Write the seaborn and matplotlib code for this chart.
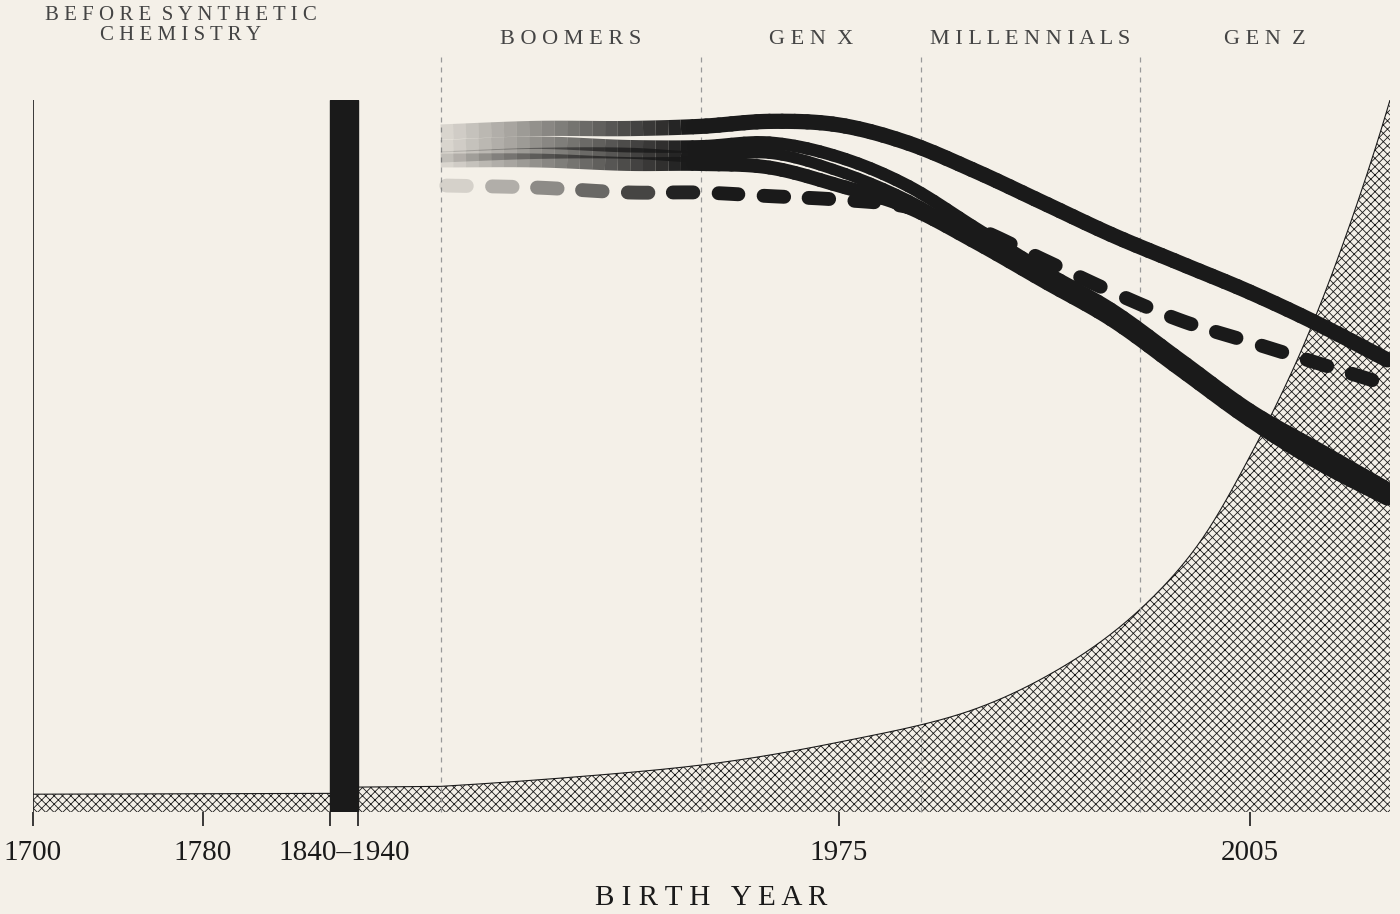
import numpy as np
import matplotlib
matplotlib.use("Agg")
import matplotlib.pyplot as plt
import seaborn as sns

sns.set_theme(style="white")
plt.rcParams['font.family'] = ['Liberation Serif', 'DejaVu Serif']
BG = "#f4f0e8"; INK = "#1a1a1a"

# data
hatch_years = [1700, 1840, 1940, 1946, 1955, 1965, 1975, 1985, 1991, 1997, 2001, 2005, 2009, 2012, 2015.2]
hatch_vals = [2.5, 2.6, 3.5, 3.6, 4.8, 6.6, 9.8, 14.5, 20, 28.5, 37, 50, 66, 81, 100]
line_years = [1946, 1953, 1960, 1965, 1970, 1975, 1980, 1985, 1990, 1995, 2000, 2005, 2010, 2015]
top_line = [95.5, 96, 96, 96.3, 97, 96.5, 94, 90, 85.5, 81, 77, 73, 68.5, 63.5]
dashed_line = [88, 87.7, 87, 87, 86.5, 86, 85, 82, 77.5, 73, 69, 66, 63, 60]
solid_c = [93.5, 94, 93.5, 93.5, 94, 92, 88, 82, 76, 70.5, 63.5, 56.5, 51, 45.5]
solid_d = [91.5, 91.5, 91, 91, 90.5, 88, 85, 80, 74.5, 69, 62, 55, 49, 44]
solid_e = [92, 92.5, 92.5, 92, 92.5, 90, 86, 80.5, 75, 69.5, 62.5, 55.5, 50, 44.5]
generations = ["B O O M E R S", "G E N  X", "M I L L E N N I A L S", "G E N  Z"]
gen_bounds = [1946, 1965, 1981, 1997, 2015.2]
tick_years = [1700, 1780, 1840, 1940, 1975, 2005]

def fwd(y):
    y = np.asarray(y, float)
    return np.where(y <= 1840, (y - 1700) * 2.125,
           np.where(y <= 1940, 297.5 + (y - 1840) * 0.28, 325.5 + (y - 1940) * 13.72))
def inv(u):
    u = np.asarray(u, float)
    return np.where(u <= 297.5, 1700 + u / 2.125,
           np.where(u <= 325.5, 1840 + (u - 297.5) / 0.28, 1940 + (u - 325.5) / 13.72))

def smooth(xp, yp, n=400):
    xp = np.asarray(xp, float); yp = np.asarray(yp, float)
    xs = np.linspace(xp[0], xp[-1], n)
    m = np.gradient(yp, xp)
    idx = np.clip(np.searchsorted(xp, xs) - 1, 0, len(xp) - 2)
    h = xp[idx + 1] - xp[idx]; t = (xs - xp[idx]) / h
    h00 = 2*t**3 - 3*t**2 + 1; h10 = t**3 - 2*t**2 + t
    h01 = -2*t**3 + 3*t**2; h11 = t**3 - t**2
    return xs, h00*yp[idx] + h10*h*m[idx] + h01*yp[idx+1] + h11*h*m[idx+1]

fig = plt.figure(figsize=(14, 9.14), dpi=100, facecolor=BG)
ax = fig.add_axes([33/1400, (914-812)/914, (1390-33)/1400, 712/914])
ax.set_facecolor(BG)
ax.set_xscale('function', functions=(fwd, inv))
ax.set_xlim(1700, 2015.2); ax.set_ylim(0, 100)
for s in ax.spines.values(): s.set_visible(False)

fy = np.linspace(1700, 2015.2, 1500)
_, lv = smooth(hatch_years[3:], np.log(hatch_vals[3:]), 1000)
fv = np.where(fy < 1946, np.interp(fy, hatch_years, hatch_vals),
              np.exp(np.interp(fy, np.linspace(1946, 2015.2, 1000), lv)))
plt.rcParams['hatch.linewidth'] = 0.6
ax.fill_between(fy, 0, fv, facecolor="none", edgecolor=INK, hatch="xxxx", linewidth=0)
ax.plot(fy, fv, color=INK, lw=0.8)
ax.axvspan(1840, 1940, color=INK, zorder=5)
ax.plot([1700, 1700], [0, 100], color=INK, lw=1.2)

for b in gen_bounds[:-1]:
    ax.plot([b, b], [0, 106], color="#999", lw=0.9, ls=(0, (4, 4)), clip_on=False)

def alpha_at(x):
    return min(1.0, 0.12 + (x - 1946) / 20)

def fade_line(vals, lw):
    xs, ys = smooth(line_years, vals, 600)
    n = len(xs); chunk = 8
    for i in range(0, n - 1, chunk):
        a = alpha_at(xs[i])
        seg = slice(i, min(i + chunk + 1, n))
        cap = 'butt' if a < 1 else 'round'
        ax.plot(xs[seg], ys[seg], color=INK, alpha=a, lw=lw, solid_capstyle=cap)

def fade_dashed(vals, lw, dash=1.55, gap=1.75):
    xs, ys = smooth(line_years, vals, 1200)
    s = xs[0] + 0.4
    while s < xs[-1]:
        e = min(s + dash, xs[-1])
        m = (xs >= s) & (xs <= e)
        ax.plot(xs[m], ys[m], color=INK, alpha=alpha_at(s), lw=lw, solid_capstyle='round')
        s = e + gap

fade_line(top_line, 11)
fade_line(solid_c, 9)
fade_line(solid_e, 8)
fade_line(solid_d, 10)
fade_dashed(dashed_line, 10)

ax.set_xticks(tick_years)
ax.set_xticklabels(["1700", "1780", "", "", "1975", "2005"], fontsize=21, color=INK)
ax.tick_params(axis='x', length=10, width=1.2, color=INK, pad=10, bottom=True)
ax.set_yticks([])
ax.text(1890, -3.9, "1840–1940", ha="center", va="top", fontsize=21, color=INK)
ax.set_xlabel("B I R T H   Y E A R", fontsize=21, color=INK, labelpad=14)

for g, a, b in zip(generations, gen_bounds[:-1], gen_bounds[1:]):
    xm = float(inv((fwd(a) + fwd(b)) / 2))
    ax.text(xm, 108.5, g, ha="center", va="center", fontsize=16, color="#444")
ax.text(float(inv(148)), 110.5, "B E F O R E  S Y N T H E T I C\nC H E M I S T R Y", ha="center",
        va="center", fontsize=15, color="#444", linespacing=1.1)

fig.savefig("out.png", dpi=100, facecolor=BG)
